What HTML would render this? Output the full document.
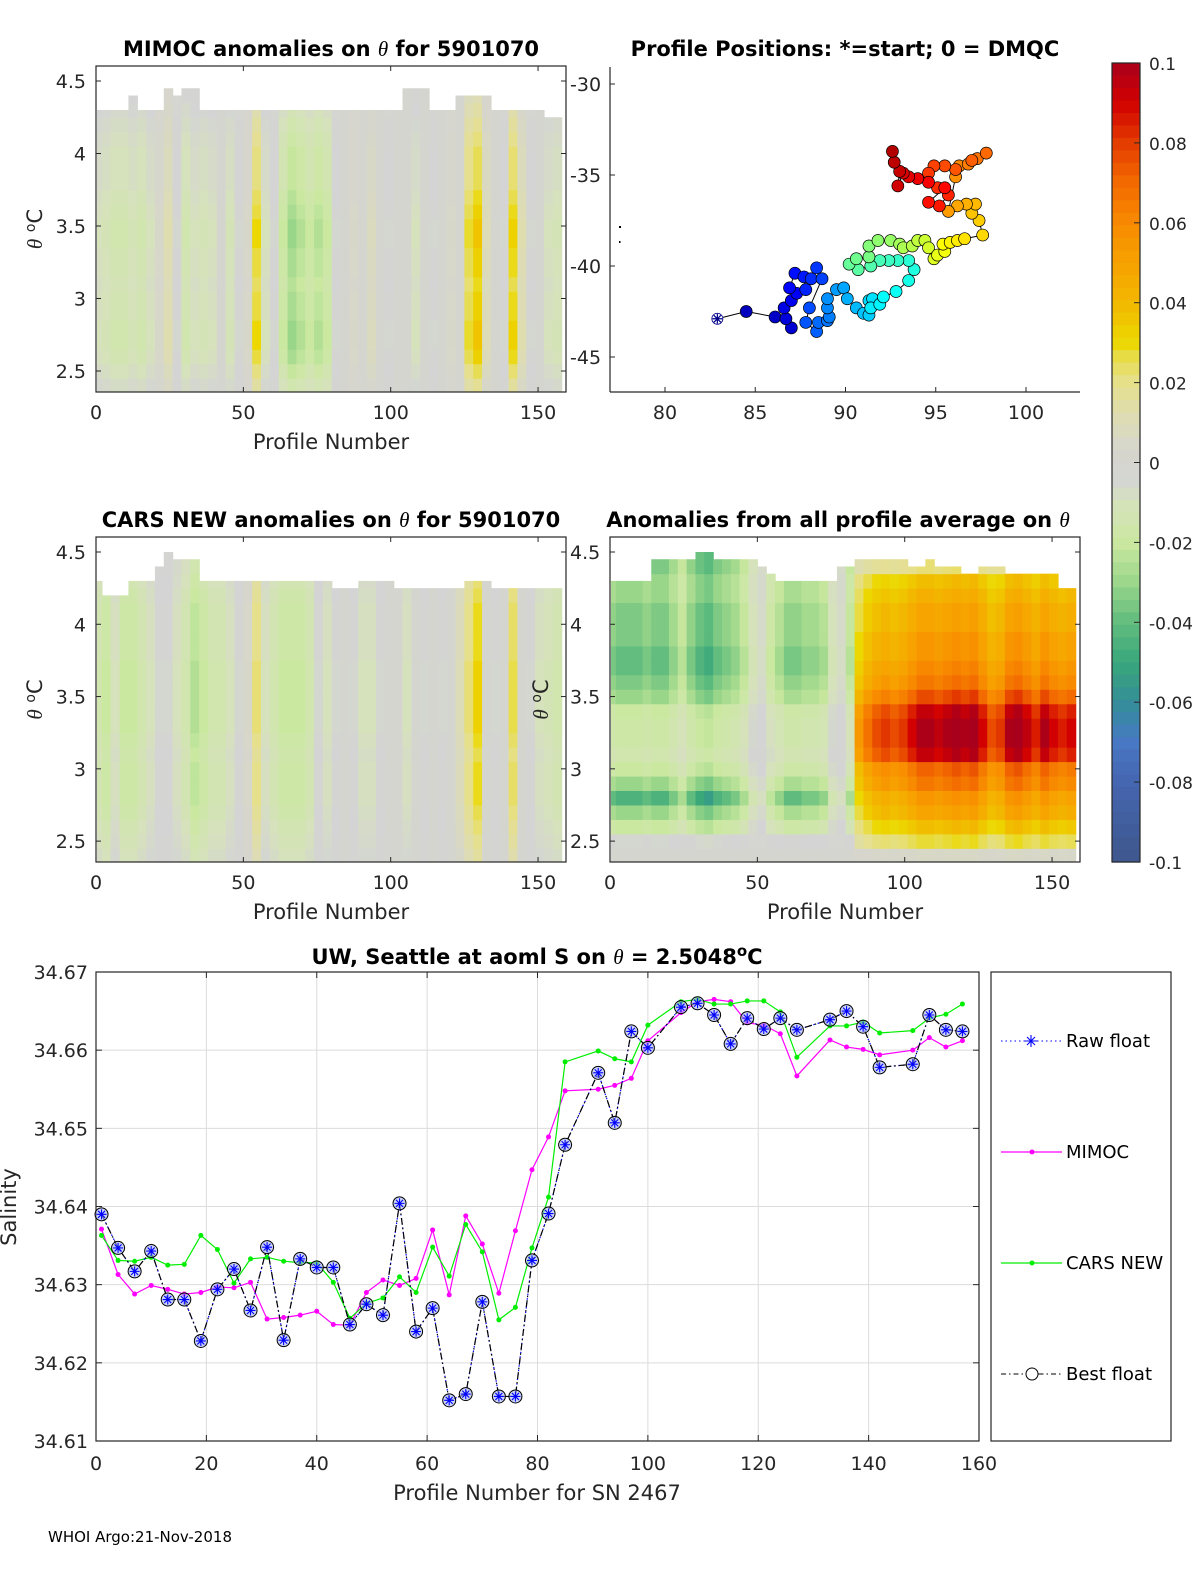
<!DOCTYPE html>
<html><head><meta charset="utf-8">
<style>
html,body{margin:0;padding:0;background:#fff;}
svg{display:block;font-family:"DejaVu Sans","Liberation Sans",sans-serif;}
.tk{font-size:19px;fill:#262626;}
.lab{font-size:21px;fill:#262626;}
.ttl{font-size:21px;font-weight:bold;fill:#000;}
</style></head>
<body>
<svg id="fig" width="1200" height="1575" viewBox="0 0 1200 1575" xmlns="http://www.w3.org/2000/svg">
<rect width="1200" height="1575" fill="#fff"/>
<text class="ttl" x="331" y="56" text-anchor="middle">MIMOC anomalies on <tspan font-style="italic" font-weight="normal" font-family="Liberation Serif">θ</tspan>  for 5901070</text>
<text class="ttl" x="845" y="56" text-anchor="middle">Profile Positions: *=start; 0 = DMQC</text>
<text class="ttl" x="331" y="527" text-anchor="middle">CARS NEW anomalies on <tspan font-style="italic" font-weight="normal" font-family="Liberation Serif">θ</tspan> for 5901070</text>
<text class="ttl" x="838" y="527" text-anchor="middle">Anomalies from all profile average on <tspan font-style="italic" font-weight="normal" font-family="Liberation Serif">θ</tspan></text>
<text class="ttl" x="537" y="964" text-anchor="middle">UW, Seattle at aoml S on <tspan font-style="italic" font-weight="normal" font-family="Liberation Serif">θ</tspan> = 2.5048<tspan dy="-8" font-size="15">o</tspan><tspan dy="8">C</tspan></text>

<g id="p1"></g>
<g id="p2"></g>
<g id="p3"></g>
<g id="p4"></g>
<g id="cb"></g>
<g id="p5"></g>

<text x="48" y="1542" font-size="15" fill="#000">WHOI Argo:21-Nov-2018</text>
</svg>
<script>
const cmapVals=[-0.1,-0.08,-0.07,-0.06,-0.05,-0.04,-0.03,-0.02,-0.01,-0.004,0.004,0.01,0.02,0.027,0.03,0.04,0.05,0.06,0.07,0.08,0.09,0.1];
const cmapCols=["#3e578c","#4565b0","#4878c4","#348e98","#39a77a","#62bd7e","#9ad68a","#cbe8a0","#d6e2bc","#d4d4d4","#d6d6cc","#dcdcb8","#e6e08c","#e8dc40","#ecd800","#f2b800","#f7a200","#f88a00","#f26a00","#e43c00","#d20000","#a8001c"];

const profCols=[1,4,7,10,13,16,19,22,25,28,31,34,37,40,43,46,49,52,55,58,61,64,67,70,73,76,79,82,85,88,91,94,97,100,103,106,109,112,115,118,121,124,127,130,133,136,139,142,145,148,151,154,157];
const thetaRows=[2.4,2.5,2.6,2.7,2.8,2.9,3.0,3.1,3.2,3.3,3.4,3.5,3.6,3.7,3.8,3.9,4.0,4.1,4.2,4.3,4.4,4.5,4.6];
const mimocCol=[-0.01,-0.012,-0.015,-0.015,-0.012,-0.015,-0.01,0.005,0.012,-0.005,-0.015,-0.01,-0.012,-0.01,0,-0.012,-0.005,0.005,0.03,-0.01,-0.005,-0.02,-0.03,-0.025,-0.02,-0.025,-0.02,-0.005,0,0.005,0,0.008,0,-0.005,0,0,-0.01,0,-0.005,0,0.005,0,0.028,0.036,0.01,0,-0.005,0.032,0.012,-0.005,0,-0.01,-0.012];
const mimocEnv=[0.5,0.7,0.9,1.0,1.0,0.9,0.9,0.8,0.9,0.9,1.0,1.0,0.9,0.8,0.7,0.7,0.7,0.6,0.5,0.4,0.3,0.3,0.3];
const mimocTop=[4.3,4.3,4.3,4.3,4.4,4.3,4.3,4.3,4.45,4.4,4.45,4.45,4.3,4.3,4.3,4.3,4.3,4.3,4.3,4.3,4.3,4.3,4.3,4.3,4.3,4.3,4.3,4.3,4.3,4.3,4.3,4.3,4.3,4.3,4.3,4.45,4.45,4.45,4.3,4.3,4.3,4.4,4.4,4.4,4.4,4.3,4.3,4.3,4.3,4.3,4.3,4.25,4.25];
const carsCol=[-0.015,-0.02,-0.01,-0.02,-0.02,-0.015,-0.01,-0.005,-0.005,-0.01,-0.015,-0.025,-0.02,-0.015,-0.015,-0.01,-0.005,0.005,0.022,-0.01,-0.015,-0.02,-0.02,-0.02,-0.015,-0.005,-0.01,-0.005,0,-0.005,-0.01,-0.01,-0.005,0,0,-0.01,0,-0.005,0,-0.005,0,0.01,0.022,0.032,0,-0.005,0,0.026,0,-0.005,-0.01,-0.012,-0.015];
const carsEnv=[0.5,0.6,0.7,0.8,0.9,0.9,0.9,0.8,0.9,1.0,1.0,1.0,1.0,1.0,0.9,0.9,0.9,0.9,0.8,0.7,0.6,0.5,0.5];
const carsTop=[4.3,4.2,4.2,4.2,4.3,4.3,4.3,4.4,4.5,4.45,4.45,4.45,4.3,4.3,4.3,4.3,4.3,4.3,4.3,4.3,4.3,4.3,4.3,4.3,4.3,4.3,4.3,4.25,4.25,4.25,4.3,4.3,4.3,4.3,4.25,4.25,4.25,4.25,4.25,4.25,4.25,4.25,4.3,4.3,4.3,4.25,4.25,4.25,4.25,4.25,4.25,4.25,4.25];
const avgLeft=[0,-0.005,-0.02,-0.03,-0.045,-0.03,-0.02,-0.015,-0.018,-0.018,-0.02,-0.03,-0.035,-0.04,-0.04,-0.035,-0.035,-0.035,-0.03,-0.03,-0.035,-0.035,-0.035];
const avgRight=[0.005,0.025,0.035,0.045,0.05,0.06,0.065,0.085,0.09,0.09,0.085,0.07,0.06,0.055,0.05,0.05,0.045,0.045,0.04,0.035,0.02,0.01,0.01];
const avgScale=[0.9,1.0,1.0,1.0,0.9,1.0,1.0,0.8,0.6,0.9,1.1,1.2,1.0,0.9,0.8,0.6,0.3,0.2,0.5,0.7,0.9,0.9,0.8,0.8,0.7,0.3,0.2,0.6,0.6,0.75,0.85,0.9,0.85,0.9,1.0,1.1,1.1,1.05,1.1,1.15,1.1,1.15,1.0,0.85,0.9,1.1,1.15,1.05,0.95,1.1,1.0,0.95,1.0];
const avgTop=[4.3,4.3,4.3,4.3,4.3,4.45,4.45,4.45,4.45,4.45,4.5,4.5,4.45,4.45,4.45,4.45,4.45,4.4,4.35,4.3,4.3,4.3,4.3,4.3,4.3,4.3,4.4,4.4,4.45,4.45,4.45,4.45,4.45,4.45,4.4,4.4,4.45,4.4,4.4,4.4,4.35,4.35,4.4,4.4,4.4,4.35,4.35,4.35,4.35,4.35,4.35,4.25,4.25];

const lons=[82.9,84.5,86.1,87.0,86.7,86.6,87.0,87.3,86.9,87.2,87.7,87.8,88.1,88.4,88.7,88.0,87.8,88.4,88.5,89.0,89.1,89.0,89.0,89.5,89.9,90.1,90.6,91.0,91.3,91.3,91.5,91.4,91.9,92.1,92.8,93.5,93.8,93.5,92.9,92.4,91.9,91.4,90.7,90.2,90.6,91.3,91.3,91.8,92.5,93.0,93.2,93.7,94.0,94.4,94.6,94.9,95.1,95.5,95.4,95.8,96.2,96.6,97.6,97.4,97.0,97.2,96.7,96.2,95.7,96.1,96.3,96.8,97.3,97.8,97.0,96.1,95.5,94.9,94.6,95.1,95.7,95.2,94.6,95.5,94.6,94.0,93.5,93.2,92.9,93.0,92.7,92.6];
const lats=[-42.9,-42.5,-42.8,-43.4,-42.9,-42.3,-41.9,-41.5,-41.2,-40.4,-40.6,-41.3,-40.7,-40.1,-40.7,-42.3,-43.1,-43.6,-43.1,-43.0,-42.8,-42.3,-41.8,-41.3,-41.2,-41.8,-42.3,-42.6,-42.7,-41.9,-41.8,-42.3,-42.1,-41.7,-41.4,-40.8,-40.2,-39.7,-39.7,-39.7,-39.7,-40.0,-40.2,-39.9,-39.6,-39.5,-38.9,-38.6,-38.6,-38.8,-39.0,-38.9,-38.6,-38.6,-39.0,-39.6,-39.4,-39.2,-38.8,-38.7,-38.6,-38.5,-38.3,-37.5,-37.1,-36.6,-36.6,-36.7,-37.0,-35.1,-34.5,-34.4,-34.1,-33.8,-34.2,-34.7,-34.5,-34.5,-34.9,-35.7,-36.1,-36.7,-36.5,-35.7,-35.4,-35.2,-35.1,-34.9,-35.6,-34.8,-34.3,-33.7];

const salProf=[1,4,7,10,13,16,19,22,25,28,31,34,37,40,43,46,49,52,55,58,61,64,67,70,73,76,79,82,85,91,94,97,100,106,109,112,115,118,121,124,127,133,136,139,142,148,151,154,157];
const salFloat=[34.639,34.6347,34.6317,34.6343,34.6281,34.6281,34.6228,34.6294,34.632,34.6267,34.6348,34.6229,34.6333,34.6322,34.6322,34.6249,34.6275,34.6261,34.6404,34.624,34.627,34.6152,34.616,34.6278,34.6157,34.6157,34.6331,34.6391,34.6479,34.6571,34.6507,34.6624,34.6603,34.6655,34.666,34.6645,34.6608,34.6641,34.6627,34.6641,34.6626,34.6639,34.665,34.663,34.6578,34.6582,34.6645,34.6626,34.6624];
const salMimoc=[34.6371,34.6313,34.6288,34.6299,34.6294,34.6288,34.629,34.6297,34.6296,34.6303,34.6256,34.6258,34.6261,34.6266,34.6249,34.6248,34.629,34.6306,34.6299,34.6308,34.637,34.6287,34.6388,34.6352,34.6289,34.6369,34.6447,34.6489,34.6548,34.655,34.6555,34.6564,34.6612,34.6648,34.6662,34.6665,34.6662,34.6635,34.6632,34.6621,34.6567,34.6613,34.6604,34.6601,34.6594,34.66,34.6616,34.6604,34.6612];
const salCars=[34.6363,34.6331,34.633,34.6335,34.6325,34.6326,34.6363,34.6345,34.6302,34.6333,34.6335,34.633,34.6328,34.6328,34.6303,34.6257,34.6276,34.6283,34.631,34.629,34.6348,34.6311,34.6377,34.6342,34.6255,34.6271,34.6347,34.6412,34.6585,34.6599,34.6589,34.6585,34.6632,34.6662,34.6665,34.6659,34.6659,34.6663,34.6663,34.6649,34.6591,34.6631,34.6631,34.6636,34.6622,34.6625,34.6641,34.6646,34.6659];
const salXTicks=[0,20,40,60,80,100,120,140,160];
const salYTicks=[34.61,34.62,34.63,34.64,34.65,34.66,34.67];

const NS="http://www.w3.org/2000/svg";
function mk(parent,tag,attrs){const e=document.createElementNS(NS,tag);for(const k in attrs)e.setAttribute(k,attrs[k]);parent.appendChild(e);return e;}
function hex(c){return [parseInt(c.substr(1,2),16),parseInt(c.substr(3,2),16),parseInt(c.substr(5,2),16)];}
function cmap(v){
  if(v<=cmapVals[0])return cmapCols[0];
  for(let i=1;i<cmapVals.length;i++){if(v<=cmapVals[i]){const t=(v-cmapVals[i-1])/(cmapVals[i]-cmapVals[i-1]);const a=hex(cmapCols[i-1]),b=hex(cmapCols[i]);return "rgb("+a.map((x,k)=>Math.round(x+(b[k]-x)*t)).join(",")+")";}}
  return cmapCols[cmapCols.length-1];
}
function frame(g,x0,y0,x1,y1){mk(g,"rect",{x:x0,y:y0,width:x1-x0,height:y1-y0,fill:"none",stroke:"#262626","stroke-width":1.2});}

function heatPanel(g,x0,y0,x1,y1,valFn,tops,withYLabels,ylabelX){
  const sx=p=>x0+p*2.947, sy=t=>y0+15+(4.5-t)*145*(y1-y0)/326;
  const cells=mk(g,"g",{});
  
  
  for(let i=0;i<profCols.length;i++){
    const xa=Math.max(x0+1,sx(profCols[i]-2)), xb=Math.min(x1-1,sx(profCols[i]+1.05));
    for(let j=0;j<thetaRows.length;j++){
      const th=thetaRows[j]; if(th-0.05>tops[i])continue;
      const ya=Math.max(y0+1,sy(Math.min(th+0.05,tops[i]))), yb=Math.min(y1-1,sy(th-0.05));
      if(yb<=ya)continue;
      const c=mk(cells,"rect",{x:xa,y:ya,width:xb-xa+0.5,height:yb-ya+0.5,fill:cmap(valFn(i,j))});
      
      
    }
  }
  frame(g,x0,y0,x1,y1);
  [0,50,100,150].forEach(p=>{mk(g,"line",{x1:sx(p),x2:sx(p),y1:y1,y2:y1-5,stroke:"#262626"});mk(g,"line",{x1:sx(p),x2:sx(p),y1:y0,y2:y0+5,stroke:"#262626"});
    const t=mk(g,"text",{x:sx(p),y:y1+27,"text-anchor":"middle",class:"tk"});t.textContent=p;
    });
  [2.5,3,3.5,4,4.5].forEach(v=>{mk(g,"line",{x1:x0,x2:x0+5,y1:sy(v),y2:sy(v),stroke:"#262626"});mk(g,"line",{x1:x1,x2:x1-5,y1:sy(v),y2:sy(v),stroke:"#262626"});
    const t=mk(g,"text",{x:withYLabels==="left"?x0-10:x0-40,y:sy(v)+7,"text-anchor":withYLabels==="left"?"end":"start",class:"tk"});t.textContent=v;
    });
  const xl=mk(g,"text",{x:(x0+x1)/2,y:y1+57,"text-anchor":"middle",class:"lab"});xl.textContent="Profile Number";
  
  const yl=mk(g,"text",{x:ylabelX,y:(y0+y1)/2,"text-anchor":"middle",class:"lab",transform:"rotate(-90 "+ylabelX+" "+((y0+y1)/2)+")"});
  yl.innerHTML='<tspan font-style="italic" font-family="Liberation Serif">θ</tspan> <tspan dy="-7" font-size="14">o</tspan><tspan dy="7">C</tspan>';
  
}

heatPanel(document.getElementById('p1'),96,66,566,392,(i,j)=>mimocCol[i]*mimocEnv[j],mimocTop,"left",42);
heatPanel(document.getElementById('p3'),96,537,566,862,(i,j)=>carsCol[i]*carsEnv[j],carsTop,"left",42);
heatPanel(document.getElementById('p4'),610,537,1080,862,(i,j)=>(profCols[i]<83?avgLeft[j]:avgRight[j])*avgScale[i],avgTop,"right",548);

(function(){
  const g=document.getElementById('p2');
  const x0=610,y0=67,x1=1080,y1=392;
  const sx=lo=>665+(lo-80)*18.05, sy=la=>84+(-30-la)*18.2;
  mk(g,"line",{x1:x0,y1:y0,x2:x0,y2:y1,stroke:"#262626","stroke-width":1.2});
  mk(g,"line",{x1:x0,y1:y1,x2:x1,y2:y1,stroke:"#262626","stroke-width":1.2});
  [80,85,90,95,100].forEach(v=>{mk(g,"line",{x1:sx(v),x2:sx(v),y1:y1,y2:y1-5,stroke:"#262626"});
    const t=mk(g,"text",{x:sx(v),y:y1+27,"text-anchor":"middle",class:"tk"});t.textContent=v;
    });
  [-30,-35,-40,-45].forEach(v=>{mk(g,"line",{x1:x0,x2:x0+5,y1:sy(v),y2:sy(v),stroke:"#262626"});
    const t=mk(g,"text",{x:x0-40,y:sy(v)+7,class:"tk"});t.textContent=v;
    });
  mk(g,"rect",{x:619,y:226,width:2,height:2,fill:"#000"});
  mk(g,"rect",{x:619,y:241,width:1.5,height:2,fill:"#000"});
  const pts=lons.map((lo,i)=>sx(lo)+","+sy(lats[i])).join(" ");
  const tr=mk(g,"polyline",{points:pts,fill:"none",stroke:"#000","stroke-width":1});
  
  function jet(t){const r=Math.min(1,Math.max(0,1.5-Math.abs(4*t-3))),gg=Math.min(1,Math.max(0,1.5-Math.abs(4*t-2))),b=Math.min(1,Math.max(0,1.5-Math.abs(4*t-1)));return "rgb("+[r,gg,b].map(v=>Math.round(v*255)).join(",")+")";}
  const n=lons.length;
  for(let i=1;i<n;i++){
    const c=mk(g,"circle",{cx:sx(lons[i]),cy:sy(lats[i]),r:6,fill:jet(0.05+0.9*i/(n-1)),stroke:"#000","stroke-width":0.7});
    
  }
  const sc=mk(g,"circle",{cx:sx(lons[0]),cy:sy(lats[0]),r:5.5,fill:"#fff",stroke:"#00008b","stroke-width":0.8});
  
  const cx=sx(lons[0]),cy=sy(lats[0]);
  mk(g,"path",{d:`M${cx-5} ${cy}H${cx+5}M${cx} ${cy-5}V${cy+5}M${cx-3.5} ${cy-3.5}L${cx+3.5} ${cy+3.5}M${cx-3.5} ${cy+3.5}L${cx+3.5} ${cy-3.5}`,stroke:"#00008b","stroke-width":1.2});
})();

(function(){
  const g=document.getElementById('cb');
  const x0=1112,x1=1140,y0=63,y1=862;
  const vy=v=>y0+(0.1-v)*(y1-y0)/0.2;
  for(let k=0;k<64;k++){const v=0.1-(k+0.5)*0.2/64;
    const r=mk(g,"rect",{x:x0,y:y0+k*(y1-y0)/64,width:x1-x0,height:(y1-y0)/64+0.6,fill:cmap(v)});
    }
  frame(g,x0,y0,x1,y1);
  [0.1,0.08,0.06,0.04,0.02,0,-0.02,-0.04,-0.06,-0.08,-0.1].forEach(v=>{
    mk(g,"line",{x1:x1-6,x2:x1,y1:vy(v),y2:vy(v),stroke:"#262626"});
    const t=mk(g,"text",{x:1149,y:vy(v)+7,"font-size":"17",fill:"#262626"});t.textContent=String(v);
    });
})();

(function(){
  const g=document.getElementById('p5');
  const x0=96,x1=979,y0=972,y1=1441;
  const sx=p=>x0+(p-0)*(x1-x0)/160, sy=v=>y1-(v-34.61)*(y1-y0)/0.06;
  salXTicks.forEach(p=>{mk(g,"line",{x1:sx(p),x2:sx(p),y1:y0,y2:y1,stroke:"#dcdcdc"});
    mk(g,"line",{x1:sx(p),x2:sx(p),y1:y1,y2:y1-6,stroke:"#262626"});mk(g,"line",{x1:sx(p),x2:sx(p),y1:y0,y2:y0+6,stroke:"#262626"});
    const t=mk(g,"text",{x:sx(p),y:y1+29,"text-anchor":"middle",class:"tk"});t.textContent=p;
    });
  salYTicks.forEach(v=>{mk(g,"line",{x1:x0,x2:x1,y1:sy(v),y2:sy(v),stroke:"#dcdcdc"});
    mk(g,"line",{x1:x0,x2:x0+6,y1:sy(v),y2:sy(v),stroke:"#262626"});mk(g,"line",{x1:x1,x2:x1-6,y1:sy(v),y2:sy(v),stroke:"#262626"});
    const t=mk(g,"text",{x:x0-8,y:sy(v)+7,"text-anchor":"end",class:"tk"});t.textContent=v.toFixed(2);
    });
  frame(g,x0,y0,x1,y1);
  function line(vals,col,dash,name){const p=mk(g,"polyline",{points:salProf.map((x,i)=>sx(x)+","+sy(vals[i])).join(" "),fill:"none",stroke:col,"stroke-width":1.2,"stroke-dasharray":dash});
    }
  line(salMimoc,"#ff00ff","none","mimoc-line");
  salProf.forEach((x,i)=>{const c=mk(g,"circle",{cx:sx(x),cy:sy(salMimoc[i]),r:2.5,fill:"#ff00ff"});});
  line(salCars,"#00ee00","none","cars-line");
  salProf.forEach((x,i)=>{const c=mk(g,"circle",{cx:sx(x),cy:sy(salCars[i]),r:2.5,fill:"#00ee00"});});
  line(salFloat,"#0000ff","1.5 3","raw-float-line");
  line(salFloat,"#000","7 3 1.5 3","best-float-line");
  salProf.forEach((x,i)=>{const cx=sx(x),cy=sy(salFloat[i]);
    const c=mk(g,"circle",{cx:cx,cy:cy,r:6.5,fill:"#aab8f0","fill-opacity":"0.6",stroke:"#000","stroke-width":1});
    
    const s=mk(g,"path",{d:`M${cx-5} ${cy}H${cx+5}M${cx} ${cy-5}V${cy+5}M${cx-3.5} ${cy-3.5}L${cx+3.5} ${cy+3.5}M${cx-3.5} ${cy+3.5}L${cx+3.5} ${cy-3.5}`,stroke:"#0000ff","stroke-width":1.1});
    });
  const ylab=mk(g,"text",{x:16,y:1207,"text-anchor":"middle",class:"lab",transform:"rotate(-90 16 1207)"});ylab.textContent="Salinity";
  
  const xlab=mk(g,"text",{x:537,y:1500,"text-anchor":"middle",class:"lab"});xlab.textContent="Profile Number for SN 2467";
  
  const lg=mk(g,"g",{});
  
  mk(lg,"rect",{x:991,y:972,width:180,height:469,fill:"#fff",stroke:"#262626","stroke-width":1.2});
  const ent=[["Raw float",1047],["MIMOC",1158],["CARS NEW",1269],["Best float",1380]];
  ent.forEach(([t,y],k)=>{
    const e=mk(lg,"g",{});
    
    if(k===0){mk(e,"line",{x1:1001,x2:1062,y1:y-6,y2:y-6,stroke:"#0000ff","stroke-dasharray":"1.5 3"});
      mk(e,"path",{d:`M1025 ${y-6}h12M1031 ${y-12}v12M1027 ${y-10}l8 8M1027 ${y-2}l8 -8`,stroke:"#0000ff","stroke-width":1.1});}
    if(k===1){mk(e,"line",{x1:1001,x2:1062,y1:y-6,y2:y-6,stroke:"#ff00ff","stroke-width":1.2});mk(e,"circle",{cx:1032,cy:y-6,r:2.5,fill:"#ff00ff"});}
    if(k===2){mk(e,"line",{x1:1001,x2:1062,y1:y-6,y2:y-6,stroke:"#00ee00","stroke-width":1.2});mk(e,"circle",{cx:1032,cy:y-6,r:2.5,fill:"#00ee00"});}
    if(k===3){mk(e,"line",{x1:1001,x2:1062,y1:y-6,y2:y-6,stroke:"#000","stroke-dasharray":"5 3 1.5 3"});mk(e,"circle",{cx:1032,cy:y-6,r:6,fill:"#fff",stroke:"#000"});}
    const tx=mk(e,"text",{x:1066,y:y,"font-size":"18",fill:"#000"});tx.textContent=t;
  });
})();
</script>
</body></html>
